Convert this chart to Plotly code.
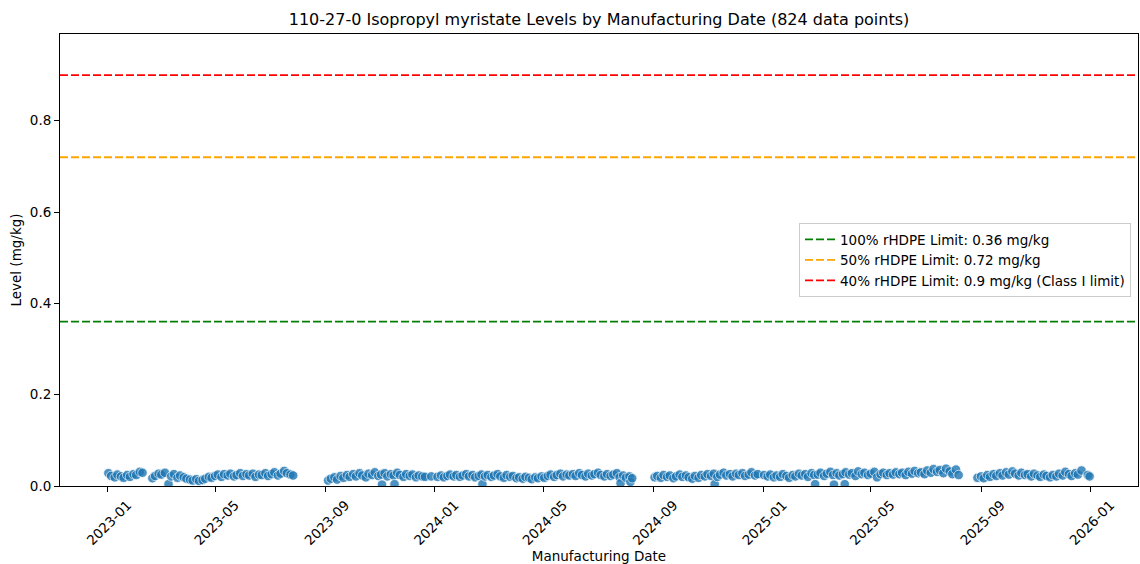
import plotly.graph_objects as go

dates = [
    # 2023 H1
    "2023-01-02", "2023-01-05", "2023-01-09", "2023-01-12", "2023-01-16", "2023-01-19", "2023-01-23", "2023-01-26", "2023-01-30",
    "2023-02-02", "2023-02-06", "2023-02-09", "2023-02-20", "2023-02-23", "2023-02-27",
    "2023-03-02", "2023-03-06", "2023-03-10", "2023-03-13", "2023-03-16", "2023-03-20", "2023-03-23", "2023-03-27", "2023-03-30",
    "2023-04-03", "2023-04-06", "2023-04-10", "2023-04-13", "2023-04-17", "2023-04-20", "2023-04-24", "2023-04-27",
    "2023-05-01", "2023-05-04", "2023-05-08", "2023-05-11", "2023-05-15", "2023-05-18", "2023-05-22", "2023-05-25", "2023-05-29",
    "2023-06-01", "2023-06-05", "2023-06-08", "2023-06-12", "2023-06-15", "2023-06-19", "2023-06-22", "2023-06-26", "2023-06-29",
    "2023-07-03", "2023-07-06", "2023-07-10", "2023-07-13", "2023-07-17", "2023-07-20", "2023-07-24", "2023-07-27",
    # 2023 H2
    "2023-09-04", "2023-09-07", "2023-09-11", "2023-09-14", "2023-09-18", "2023-09-21", "2023-09-25", "2023-09-28",
    "2023-10-02", "2023-10-05", "2023-10-09", "2023-10-12", "2023-10-16", "2023-10-19", "2023-10-23", "2023-10-26", "2023-10-30",
    "2023-11-02", "2023-11-03", "2023-11-06", "2023-11-09", "2023-11-13", "2023-11-16", "2023-11-17", "2023-11-20", "2023-11-23", "2023-11-27", "2023-11-30",
    "2023-12-04", "2023-12-07", "2023-12-11", "2023-12-14", "2023-12-18", "2023-12-21", "2023-12-28",
    # 2024 H1
    "2024-01-04", "2024-01-08", "2024-01-11", "2024-01-15", "2024-01-18", "2024-01-22", "2024-01-25", "2024-01-29",
    "2024-02-01", "2024-02-05", "2024-02-08", "2024-02-12", "2024-02-15", "2024-02-19", "2024-02-22", "2024-02-23", "2024-02-26", "2024-02-29",
    "2024-03-04", "2024-03-07", "2024-03-11", "2024-03-14", "2024-03-18", "2024-03-21", "2024-03-25", "2024-03-28",
    "2024-04-01", "2024-04-04", "2024-04-08", "2024-04-11", "2024-04-15", "2024-04-18", "2024-04-22", "2024-04-25", "2024-04-29",
    "2024-05-02", "2024-05-06", "2024-05-09", "2024-05-13", "2024-05-16", "2024-05-20", "2024-05-23", "2024-05-27", "2024-05-30",
    "2024-06-03", "2024-06-06", "2024-06-10", "2024-06-13", "2024-06-17", "2024-06-20", "2024-06-24", "2024-06-27",
    "2024-07-01", "2024-07-04", "2024-07-08", "2024-07-11", "2024-07-15", "2024-07-18", "2024-07-22", "2024-07-25", "2024-07-26", "2024-07-29",
    "2024-08-01", "2024-08-05", "2024-08-06", "2024-08-08",
    # 2024 H2
    "2024-09-02", "2024-09-05", "2024-09-09", "2024-09-12", "2024-09-16", "2024-09-19", "2024-09-23", "2024-09-26", "2024-09-30",
    "2024-10-03", "2024-10-07", "2024-10-10", "2024-10-14", "2024-10-17", "2024-10-21", "2024-10-24", "2024-10-28", "2024-10-31",
    "2024-11-04", "2024-11-07", "2024-11-08", "2024-11-11", "2024-11-14", "2024-11-18", "2024-11-21", "2024-11-25", "2024-11-28",
    "2024-12-02", "2024-12-05", "2024-12-09", "2024-12-12", "2024-12-16", "2024-12-19", "2024-12-23", "2024-12-26",
    # 2025 H1
    "2025-01-02", "2025-01-06", "2025-01-09", "2025-01-13", "2025-01-16", "2025-01-20", "2025-01-23", "2025-01-27", "2025-01-30",
    "2025-02-03", "2025-02-06", "2025-02-10", "2025-02-13", "2025-02-17", "2025-02-20", "2025-02-24", "2025-02-27", "2025-02-28",
    "2025-03-03", "2025-03-06", "2025-03-10", "2025-03-13", "2025-03-17", "2025-03-20", "2025-03-21", "2025-03-24", "2025-03-27", "2025-03-31",
    "2025-04-02", "2025-04-03", "2025-04-07", "2025-04-10", "2025-04-14", "2025-04-17", "2025-04-21", "2025-04-24", "2025-04-28",
    "2025-05-01", "2025-05-05", "2025-05-08", "2025-05-12", "2025-05-15", "2025-05-19", "2025-05-22", "2025-05-26", "2025-05-29",
    "2025-06-02", "2025-06-05", "2025-06-09", "2025-06-12", "2025-06-16", "2025-06-19", "2025-06-23", "2025-06-26", "2025-06-30",
    "2025-07-03", "2025-07-07", "2025-07-10", "2025-07-14", "2025-07-17", "2025-07-21", "2025-07-24", "2025-07-28", "2025-07-31",
    "2025-08-04", "2025-08-07",
    # 2025 H2
    "2025-08-28",
    "2025-09-01", "2025-09-04", "2025-09-08", "2025-09-11", "2025-09-15", "2025-09-18", "2025-09-22", "2025-09-25", "2025-09-29",
    "2025-10-02", "2025-10-06", "2025-10-09", "2025-10-13", "2025-10-16", "2025-10-20", "2025-10-23", "2025-10-27", "2025-10-30",
    "2025-11-03", "2025-11-06", "2025-11-10", "2025-11-13", "2025-11-17", "2025-11-20", "2025-11-24", "2025-11-27",
    "2025-12-01", "2025-12-04", "2025-12-08", "2025-12-11", "2025-12-15", "2025-12-18", "2025-12-22", "2025-12-29", "2025-12-31",
]

levels = [
    # 2023 H1
    0.028, 0.022, 0.019, 0.025, 0.021, 0.018, 0.024, 0.020, 0.026,
    0.024, 0.031, 0.029, 0.017, 0.022, 0.027,
    0.025, 0.029, 0.004, 0.021, 0.026, 0.018, 0.023, 0.019, 0.016,
    0.014, 0.012, 0.015, 0.011, 0.013, 0.016, 0.020, 0.018,
    0.022, 0.025, 0.020, 0.026, 0.023, 0.027, 0.021, 0.024, 0.028,
    0.022, 0.026, 0.023, 0.027, 0.020, 0.025, 0.024, 0.028, 0.022,
    0.026, 0.030, 0.023, 0.027, 0.033, 0.028, 0.025, 0.023,
    # 2023 H2
    0.012, 0.016, 0.019, 0.014, 0.022, 0.018, 0.024, 0.020,
    0.026, 0.021, 0.028, 0.023, 0.019, 0.027, 0.024, 0.030, 0.022,
    0.025, 0.003, 0.028, 0.021, 0.026, 0.023, 0.004, 0.029, 0.024, 0.020, 0.026,
    0.022, 0.025, 0.019, 0.023, 0.021, 0.020, 0.021,
    # 2024 H1
    0.020, 0.023, 0.019, 0.022, 0.025, 0.021, 0.024, 0.020,
    0.023, 0.026, 0.021, 0.024, 0.019, 0.022, 0.025, 0.004, 0.021, 0.024,
    0.020, 0.023, 0.026, 0.021, 0.018, 0.024, 0.020, 0.022,
    0.017, 0.019, 0.016, 0.020, 0.018, 0.015, 0.019, 0.017, 0.021,
    0.018, 0.022, 0.025, 0.020, 0.024, 0.027, 0.021, 0.025, 0.023,
    0.026, 0.022, 0.028, 0.024, 0.021, 0.027, 0.023, 0.026,
    0.029, 0.024, 0.021, 0.026, 0.022, 0.025, 0.028, 0.019, 0.006, 0.023,
    0.018, 0.021, 0.009, 0.017,
    # 2024 H2
    0.019, 0.022, 0.018, 0.024, 0.020, 0.023, 0.017, 0.021, 0.025,
    0.020, 0.023, 0.019, 0.016, 0.022, 0.018, 0.024, 0.021, 0.026,
    0.022, 0.027, 0.004, 0.020, 0.025, 0.029, 0.023, 0.026, 0.021,
    0.027, 0.024, 0.028, 0.022, 0.025, 0.030, 0.023, 0.026,
    # 2025 H1
    0.024, 0.021, 0.025, 0.019, 0.023, 0.020, 0.026, 0.022, 0.018,
    0.024, 0.021, 0.027, 0.023, 0.026, 0.020, 0.028, 0.024, 0.004,
    0.025, 0.029, 0.022, 0.027, 0.031, 0.024, 0.003, 0.028, 0.023, 0.026,
    0.004, 0.030, 0.025, 0.028, 0.022, 0.032, 0.026, 0.029, 0.024,
    0.027, 0.031, 0.019, 0.026, 0.029, 0.024, 0.028, 0.025, 0.030,
    0.026, 0.029, 0.024, 0.031, 0.027, 0.033, 0.028, 0.030, 0.026,
    0.034, 0.029, 0.037, 0.031, 0.035, 0.028, 0.038, 0.032, 0.026,
    0.036, 0.024,
    # 2025 H2
    0.018,
    0.021, 0.017, 0.024, 0.020, 0.026, 0.022, 0.028, 0.023, 0.030,
    0.025, 0.032, 0.027, 0.023, 0.029, 0.024, 0.026, 0.021, 0.027,
    0.023, 0.020, 0.025, 0.022, 0.019, 0.024, 0.021, 0.027,
    0.023, 0.031, 0.026, 0.022, 0.028, 0.025, 0.034, 0.024, 0.021,
]

limit_names = [
    "100% rHDPE Limit: 0.36 mg/kg",
    "50% rHDPE Limit: 0.72 mg/kg",
    "40% rHDPE Limit: 0.9 mg/kg (Class I limit)",
]
limit_values = [0.36, 0.72, 0.9]
limit_colors = ["#008000", "#FFA500", "#FF0000"]

FONT = "DejaVu Sans"
FS = 13.5

fig = go.Figure()

fig.add_trace(go.Scatter(
    x=dates, y=levels, mode="markers", showlegend=False,
    marker=dict(color="#1f77b4", size=9.5, opacity=0.8,
                line=dict(color="white", width=0.8)),
))

for name, val, col in zip(limit_names, limit_values, limit_colors):
    fig.add_shape(type="line", xref="paper", x0=0, x1=1, yref="y", y0=val, y1=val,
                  line=dict(color=col, width=1.8, dash="8px,3px"))
    # legend-only entry
    fig.add_trace(go.Scatter(x=[None], y=[None], mode="lines", name=name,
                             line=dict(color=col, width=1.8, dash="8px,3px")))

fig.update_layout(
    width=1140, height=564,
    margin=dict(l=60, r=2, t=34, b=78),
    paper_bgcolor="white", plot_bgcolor="white",
    font=dict(family=FONT, size=FS, color="black"),
    title=dict(text="110-27-0 Isopropyl myristate Levels by Manufacturing Date (824 data points)",
               x=0.5, xref="paper", xanchor="center", y=0.966, yanchor="middle",
               font=dict(size=16)),
    legend=dict(x=0.9935, y=0.5, xanchor="right", yanchor="middle",
                bgcolor="rgba(255,255,255,0.8)", bordercolor="#cccccc", borderwidth=1,
                itemwidth=30, font=dict(size=FS), tracegroupgap=0),
    xaxis=dict(
        range=["2022-11-09", "2026-02-23"],
        tick0="2023-01-01", dtick="M4", tickformat="%Y-%m",
        tickangle=-45, ticklabelshift=20,
        showgrid=False, zeroline=False, automargin=False,
        showline=True, linecolor="black", linewidth=1, mirror=True,
        ticks="outside", ticklen=5, tickcolor="black", tickfont=dict(size=FS),
        title=dict(text="Manufacturing Date", standoff=4, font=dict(size=FS)),
    ),
    yaxis=dict(
        range=[0, 0.99],
        tickvals=[0.0, 0.2, 0.4, 0.6, 0.8], tickformat=".1f",
        showgrid=False, zeroline=False, automargin=False,
        showline=True, linecolor="black", linewidth=1, mirror=True,
        ticks="outside", ticklen=5, tickcolor="black", tickfont=dict(size=FS),
        title=dict(text="Level (mg/kg)", standoff=5, font=dict(size=FS)),
    ),
)

# page body has a default 8px margin; drop it so the figure sits at the window's corner
fig.write_html("out.html", config={"displayModeBar": False},
               post_script="document.body.style.margin='0';")
